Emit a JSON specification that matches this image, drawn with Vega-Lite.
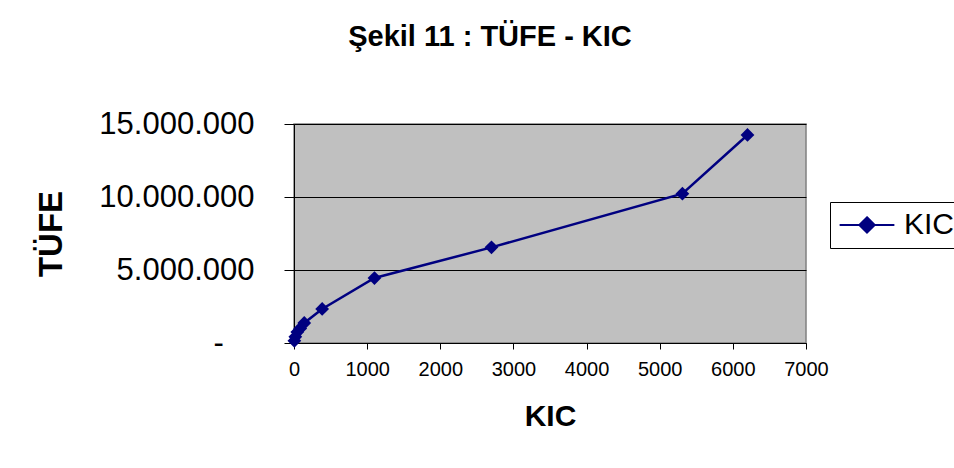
{
  "$schema": "https://vega.github.io/schema/vega-lite/v6.json",
  "autosize": {"type": "none"},
  "padding": {"left": 294, "top": 124, "right": 148, "bottom": 125},
  "width": 512,
  "height": 219,
  "background": "white",
  "title": {
    "text": "Şekil 11 : TÜFE - KIC",
    "fontSize": 29,
    "fontWeight": "bold",
    "font": "Liberation Sans",
    "color": "black",
    "anchor": "middle",
    "frame": "group",
    "dx": -60,
    "baseline": "alphabetic",
    "offset": 33
  },
  "data": {
    "values": [
      {"KIC": 5, "TUFE": 150000, "series": "KIC"},
      {"KIC": 18, "TUFE": 420000, "series": "KIC"},
      {"KIC": 45, "TUFE": 750000, "series": "KIC"},
      {"KIC": 85, "TUFE": 1000000, "series": "KIC"},
      {"KIC": 140, "TUFE": 1370000, "series": "KIC"},
      {"KIC": 385, "TUFE": 2330000, "series": "KIC"},
      {"KIC": 1100, "TUFE": 4450000, "series": "KIC"},
      {"KIC": 2700, "TUFE": 6550000, "series": "KIC"},
      {"KIC": 5310, "TUFE": 10230000, "series": "KIC"},
      {"KIC": 6200, "TUFE": 14250000, "series": "KIC"}
    ]
  },
  "mark": {
    "type": "line",
    "strokeWidth": 2.5,
    "point": {"shape": "diamond", "size": 190, "filled": true, "opacity": 1}
  },
  "encoding": {
    "x": {
      "field": "KIC",
      "type": "quantitative",
      "scale": {"domain": [0, 7000], "nice": false, "zero": true},
      "axis": {
        "title": "KIC",
        "values": [0, 1000, 2000, 3000, 4000, 5000, 6000, 7000],
        "format": "d",
        "grid": false,
        "domainColor": "black",
        "tickColor": "black",
        "tickSize": 6,
        "labelFontSize": 20,
        "labelPadding": 10,
        "labelColor": "black",
        "labelFlush": false,
        "titleFontSize": 30,
        "titleFontWeight": "bold",
        "titleColor": "black",
        "titlePadding": 22
      }
    },
    "y": {
      "field": "TUFE",
      "type": "quantitative",
      "scale": {"domain": [0, 15000000], "nice": false},
      "axis": {
        "title": "TÜFE",
        "values": [0, 5000000, 10000000, 15000000],
        "labelExpr": "datum.value == 0 ? '-\u2005\u2800' : replace(format(datum.value, ',.0f'), regexp(',', 'g'), '.')",
        "grid": true,
        "gridColor": "black",
        "gridWidth": 1,
        "gridOpacity": 1,
        "domainColor": "black",
        "tickColor": "black",
        "tickSize": 10,
        "labelFontSize": 31,
        "labelPadding": 30,
        "labelColor": "black",
        "labelFlush": false,
        "titleFontSize": 33,
        "titleFontWeight": "bold",
        "titleColor": "black",
        "titlePadding": 30
      }
    },
    "color": {
      "field": "series",
      "type": "nominal",
      "scale": {"range": ["#000080"]},
      "legend": {
        "title": null,
        "orient": "none",
        "legendX": 536,
        "legendY": 78,
        "padding": 8,
        "strokeColor": "black",
        "fillColor": "white",
        "symbolType": "M-2,0H2M0,-0.56L0.56,0L0,0.56L-0.56,0Z",
        "symbolSize": 750,
        "symbolOffset": 14,
        "symbolStrokeWidth": 2,
        "symbolFillColor": "#000080",
        "symbolStrokeColor": "#000080",
        "symbolOpacity": 1,
        "labelFontSize": 30,
        "labelColor": "black",
        "labelOffset": 22
      }
    }
  },
  "config": {
    "font": "Liberation Sans",
    "view": {"fill": "#C0C0C0", "stroke": "#808080", "strokeWidth": 1.5},
    "axis": {"domainWidth": 1, "tickWidth": 1}
  }
}
